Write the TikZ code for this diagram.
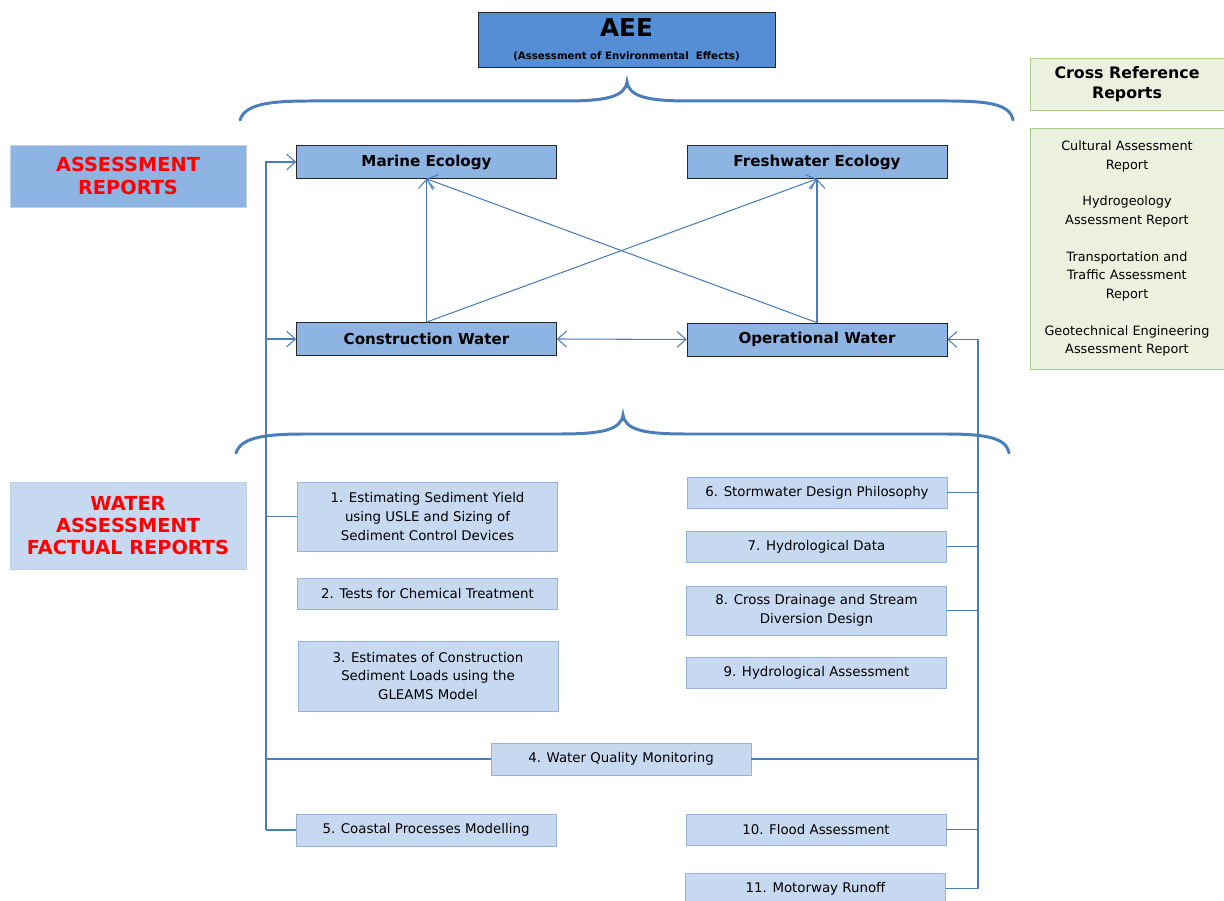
\documentclass[tikz,border=0pt]{standalone}
\usepackage{fontspec}
\setmainfont{DejaVu Sans}
\usetikzlibrary{arrows.meta}
\definecolor{aeeblue}{RGB}{85,142,213}
\definecolor{midblue}{RGB}{141,180,226}
\definecolor{paleblue}{RGB}{198,217,241}
\definecolor{edgeblue}{RGB}{149,179,215}
\definecolor{linkblue}{RGB}{74,126,187}
\definecolor{palegreen}{RGB}{235,241,222}
\definecolor{edgegreen}{RGB}{168,207,138}

\begin{document}
\begin{tikzpicture}[x=0.02cm, y=-0.02cm,
  mainbox/.style={draw=black!85, fill=midblue, minimum width=5.2cm, minimum height=0.66cm, font=\bfseries\fontsize{8.6}{10}\selectfont},
  repbox/.style={draw=edgeblue, fill=paleblue, minimum width=5.2cm, minimum height=0.62cm, align=center, font=\fontsize{7.6}{10.6}\selectfont},
  tagbox/.style={fill=#1, draw=edgeblue!60, minimum width=4.72cm, align=center, text=red, font=\bfseries\fontsize{11}{12.6}\selectfont},
  xrefbox/.style={draw=edgegreen, fill=palegreen, minimum width=3.88cm, align=center},
  link/.style={draw=linkblue, line width=0.6pt},
  arr/.style={link, -{Straight Barb[length=5pt,width=9pt]}},
  arrs/.style={link, {Straight Barb[length=5pt,width=9pt]}-{Straight Barb[length=5pt,width=9pt]}},
  brace/.style={draw=linkblue, line width=1.7pt, line cap=round}]
\clip (0,0) rectangle (1224,901);

% top of the tree
\node[draw=black!85, fill=aeeblue, minimum width=5.94cm, minimum height=1.1cm, align=center, inner sep=0pt] (aee) at (626.5,39.5)
  {{\bfseries\fontsize{14}{15}\selectfont AEE}\\[1pt]{\bfseries\fontsize{5.8}{7}\selectfont (Assessment of Environmental\ \ Effects)}};
\draw[brace] (240,120) .. controls (245,104) and (270,101) .. (310,101) -- (565,101) .. controls (605,101) and (625,97) .. (627,82)
  .. controls (629,97) and (649,101) .. (689,101) -- (948,101) .. controls (988,101) and (1010,104) .. (1013,120);

% assessment reports
\node[tagbox=midblue, minimum height=1.24cm] (assess) at (128,176) {ASSESSMENT\\REPORTS};
\node[mainbox] (marine) at (426.5,162) {Marine Ecology};
\node[mainbox] (fresh) at (817,162) {Freshwater Ecology};
\node[mainbox] (constr) at (426.5,339) {Construction Water};
\node[mainbox] (oper) at (817,339.5) {Operational Water};

\draw[arr] (constr.north) -- (marine.south);
\draw[arr] (constr.north) -- (fresh.south);
\draw[arr] (oper.north) -- (fresh.south);
\draw[arr] (oper.north) -- (marine.south);
\draw[arrs] (constr.east) -- (oper.west);

\draw[brace, shift={(-4,333)}] (240,120) .. controls (245,104) and (270,101) .. (310,101) -- (565,101) .. controls (605,101) and (625,97) .. (627,82)
  .. controls (629,97) and (649,101) .. (689,101) -- (948,101) .. controls (988,101) and (1010,104) .. (1013,120);

% factual reports
\node[tagbox=paleblue, minimum height=1.74cm] (water) at (128,525.5) {WATER\\ASSESSMENT\\FACTUAL REPORTS};
\node[repbox, minimum height=1.38cm] (r1) at (427.5,516.5) {1. Estimating Sediment Yield\\using USLE and Sizing of\\Sediment Control Devices};
\node[repbox] (r2) at (427.5,593.5) {2. Tests for Chemical Treatment};
\node[repbox, minimum height=1.4cm] (r3) at (428,676) {3. Estimates of Construction\\Sediment Loads using the\\GLEAMS Model};
\node[repbox, minimum height=0.64cm] (r4) at (621,759) {4. Water Quality Monitoring};
\node[repbox, minimum height=0.64cm] (r5) at (426,830) {5. Coastal Processes Modelling};
\node[repbox] (r6) at (817,492.5) {6. Stormwater Design Philosophy};
\node[repbox] (r7) at (816.5,546.5) {7. Hydrological Data};
\node[repbox, minimum height=0.98cm] (r8) at (816.5,610.5) {8. Cross Drainage and Stream\\Diversion Design};
\node[repbox] (r9) at (816.5,672.5) {9. Hydrological Assessment};
\node[repbox] (r10) at (816,829.5) {10. Flood Assessment};
\node[repbox] (r11) at (815.5,888.5) {11. Motorway Runoff};

% left trunk
\coordinate (ltop) at (266,162);
\coordinate (lbot) at (266,830);
\draw[link] (lbot) -- (r5.west);
\draw[arr] (lbot) -- (ltop) -- (marine.west);
\draw[arr] (ltop |- constr.west) -- (constr.west);
\draw[link] (ltop |- r1.west) -- (r1.west);
\draw[link] (ltop |- r4.west) -- (r4.west);

% right trunk
\coordinate (rtop) at (978,339.5);
\coordinate (rbot) at (978,888.5);
\draw[link] (r11.east) -- (rbot);
\draw[arr] (rbot) -- (rtop) -- (oper.east);
\draw[link] (r6.east) -- (rtop |- r6.east);
\draw[link] (r7.east) -- (rtop |- r7.east);
\draw[link] (r8.east) -- (rtop |- r8.east);
\draw[link] (r4.east) -- (rtop |- r4.east);
\draw[link] (r10.east) -- (rtop |- r10.east);

% cross reference reports
\node[xrefbox, minimum height=1.04cm, font=\bfseries\fontsize{9}{11}\selectfont] (xref) at (1127,84) {Cross Reference\\Reports};
\node[xrefbox, minimum height=4.82cm, font=\fontsize{7.3}{10.5}\selectfont] (xlist) at (1127,248.5)
  {Cultural Assessment\\Report\\[10.5pt]Hydrogeology\\Assessment Report\\[10.5pt]Transportation and\\Traffic Assessment\\Report\\[10.5pt]Geotechnical Engineering\\Assessment Report};
\end{tikzpicture}
\end{document}
